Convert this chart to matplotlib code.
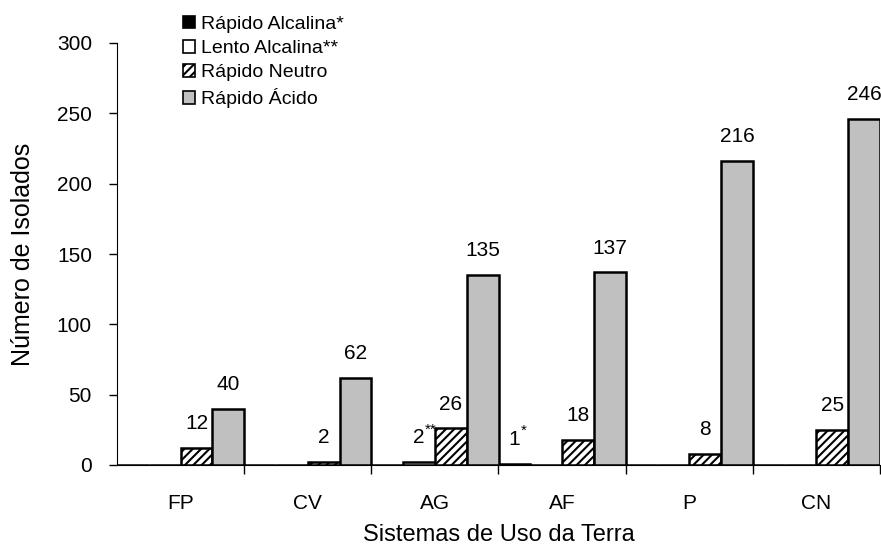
import numpy as np
import matplotlib
matplotlib.use('Agg')
from matplotlib import pyplot as plt
from matplotlib.patches import Patch

categorias = ['FP', 'CV', 'AG', 'AF', 'P', 'CN']
rapido_alcalina = [0, 0, 0, 1, 0, 0]
lento_alcalina = [0, 0, 2, 0, 0, 0]
rapido_neutro = [12, 2, 26, 18, 8, 25]
rapido_acido = [40, 62, 135, 137, 216, 246]

series_nomes = ['Rápido Alcalina*', 'Lento Alcalina**', 'Rápido Neutro', 'Rápido Ácido']
# sufixo dos rótulos para identificar as séries alcalinas
sufixos = ['*', '**', '', '']

plt.rcParams['font.family'] = ['Liberation Sans', 'DejaVu Sans']
plt.rcParams['font.size'] = 15
plt.rcParams['hatch.linewidth'] = 1.5

fig = plt.figure(figsize=(8.81, 5.59), dpi=100)
ax = fig.add_axes([117 / 881, 1 - 465 / 559, 763 / 881, 422 / 559])

x = np.arange(len(categorias))
w = 0.25
estilos = [
    dict(color='black', edgecolor='black'),
    dict(color='white', edgecolor='black'),
    dict(color='white', edgecolor='black', hatch='////'),
    dict(color='#c0c0c0', edgecolor='black'),
]
dados = [rapido_alcalina, lento_alcalina, rapido_neutro, rapido_acido]

for i, (vals, est) in enumerate(zip(dados, estilos)):
    pos = x - 0.375 + i * w
    ax.bar(pos, vals, width=w, linewidth=1.8, **est)
    for p, v in zip(pos, vals):
        if v == 0:
            continue
        ax.annotate(str(v), (p, v), xytext=(0, 13.5), textcoords='offset points',
                    ha='center', va='baseline', fontsize=15)
        if sufixos[i]:
            ax.annotate(sufixos[i], (p, v), xytext=(4.5, 20.5), textcoords='offset points',
                        ha='left', va='baseline', fontsize=11)

ax.set_xlim(-0.5, 5.5)
ax.set_ylim(0, 300)
ax.set_yticks(range(0, 301, 50))
ax.set_xticks(x)
ax.set_xticklabels(categorias)
ax.set_xticks(np.arange(0.5, 6, 1), minor=True)
ax.tick_params(axis='x', which='major', length=0, pad=21)
ax.tick_params(axis='x', which='minor', length=6.5, width=1)
ax.tick_params(axis='y', length=6, width=1, pad=12)
ax.spines['top'].set_visible(False)
ax.spines['right'].set_visible(False)
ax.set_xlabel('Sistemas de Uso da Terra', fontsize=17, labelpad=8)
ax.set_ylabel('Número de Isolados', fontsize=18, labelpad=16)

handles = [Patch(facecolor=e['color'], edgecolor='black', hatch=e.get('hatch'), linewidth=1.2)
           for e in estilos]
fig.legend(handles, series_nomes, loc='upper left', bbox_to_anchor=(175 / 881, 1 - 8 / 559),
           frameon=False, handlelength=0.62, handleheight=0.62, handletextpad=0.3,
           labelspacing=0.36, borderaxespad=0, fontsize=14)

fig.savefig('out.png', dpi=100)
